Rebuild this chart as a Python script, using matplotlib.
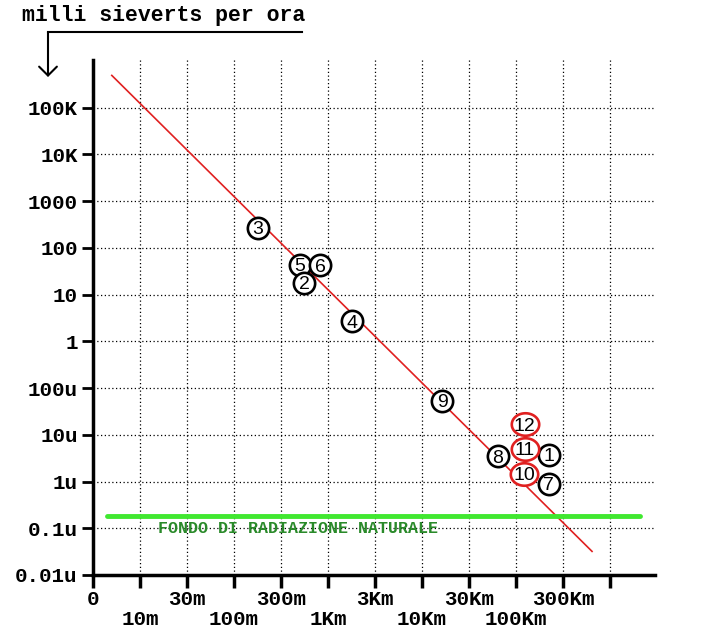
import matplotlib.pyplot as plt
import numpy as np
from matplotlib.path import Path
from matplotlib.lines import Line2D
from matplotlib.ticker import NullLocator

plt.rcParams['font.family'] = ['Liberation Mono', 'DejaVu Sans']

# asse x: ogni tacca vale mezza decade di distanza
x_ticks_top = [0, 2, 4, 6, 8, 10]
x_labels_top = ['0', '30m', '300m', '3Km', '30Km', '300Km']
x_ticks_bottom = [1, 3, 5, 7, 9, 11]
x_labels_bottom = ['10m', '100m', '1Km', '10Km', '100Km', '']

y_ticks = [1e5, 1e4, 1e3, 1e2, 1e1, 1, 1e-1, 1e-2, 1e-3, 1e-4, 1e-5]
y_labels = ['100K', '10K', '1000', '100', '10', '1', '100u', '10u', '1u', '0.1u', '0.01u']

# retta di tendenza
line_x = [0.4, 10.62]
line_y = [4.9e5, 3.2e-5]

# fondo di radiazione naturale
fondo_x = [0.3, 11.64]
fondo_y = [1.8e-4, 1.8e-4]

# punti neri
punti_n = ['3', '5', '6', '2', '4', '9', '8', '1', '7']
punti_x = [3.51, 4.40, 4.83, 4.49, 5.51, 7.43, 8.62, 9.70, 9.70]
punti_y = [270, 44, 42, 18, 2.7, 0.053, 0.0035, 0.0037, 0.0009]

# punti rossi
rossi_n = ['12', '11', '10']
rossi_x = [9.19, 9.19, 9.17]
rossi_y = [0.017, 0.005, 0.00145]

fig = plt.figure(figsize=(7.01, 6.37), dpi=100)
ax = fig.add_axes([93/701, 1-575/637, (655-93)/701, (575-60)/637])
ax.set_yscale('log')
ax.set_xlim(0, 11.96)
ax.set_ylim(1e-5, 10**6.02)

for s in ['top', 'right']:
    ax.spines[s].set_visible(False)
for s in ['left', 'bottom']:
    ax.spines[s].set_linewidth(2.5)

# griglia punteggiata
for y in y_ticks[:-1]:
    ax.axhline(y, color='k', ls=(0, (1, 2)), lw=0.9, zorder=1)
for x in range(1, 12):
    ax.axvline(x, color='k', ls=(0, (1, 2)), lw=0.9, zorder=1)

ax.set_yticks(y_ticks)
ax.set_yticklabels(y_labels)
ax.yaxis.set_minor_locator(NullLocator())
ax.set_xticks(x_ticks_top)
ax.set_xticklabels(x_labels_top)
ax.set_xticks(x_ticks_bottom, minor=True)
ax.set_xticklabels(x_labels_bottom, minor=True)

ax.tick_params(axis='y', which='major', length=8, width=2, pad=3, labelsize=15)
ax.tick_params(axis='x', which='major', length=9, width=2.5, pad=2, labelsize=15)
ax.tick_params(axis='x', which='minor', length=9, width=2.5, pad=16, labelsize=15)
for lab in ax.get_xticklabels(which='both') + ax.get_yticklabels():
    lab.set_fontweight('bold')

ax.plot(line_x, line_y, color='#e02020', lw=1.2, zorder=2)
ax.plot(fondo_x, fondo_y, color='#40e830', lw=3.5, solid_capstyle='round', zorder=2)
ax.text(1.38, 1e-4, 'FONDO DI RADIAZIONE NATURALE', color='#2a8a2a', fontsize=12,
        fontweight='bold', ha='left', va='center', zorder=3)

ax.scatter(punti_x, punti_y, s=235, facecolor='white', edgecolor='black', lw=1.9, zorder=4)
t = np.linspace(0, 2*np.pi, 80)
ellisse = Path(np.column_stack([1.22*np.cos(t), np.sin(t)]), closed=True)
ax.scatter(rossi_x, rossi_y, s=390, marker=ellisse, facecolor='white', edgecolor='#e02020',
           lw=1.9, zorder=4)

for n, x, y in zip(punti_n + rossi_n, punti_x + rossi_x, punti_y + rossi_y):
    ax.text(x, y, n, ha='center', va='center_baseline', fontsize=14,
            family='Liberation Sans', zorder=5)

# titolo e freccia
fig.text(22/701, 1-16/637, 'milli sieverts per ora', fontsize=15.5, fontweight='bold',
         ha='left', va='center')
fig.add_artist(Line2D([302/701, 48/701], [1-32/637, 1-32/637], transform=fig.transFigure,
                      color='k', lw=1.5))
ax.annotate('', xy=(48, 637-77), xytext=(48, 637-32), xycoords='figure pixels',
            textcoords='figure pixels',
            arrowprops=dict(arrowstyle='->,head_length=0.4,head_width=0.4', lw=1.5,
                            mutation_scale=16, shrinkA=0, shrinkB=0, color='k'))

fig.savefig('out.png', dpi=100)
